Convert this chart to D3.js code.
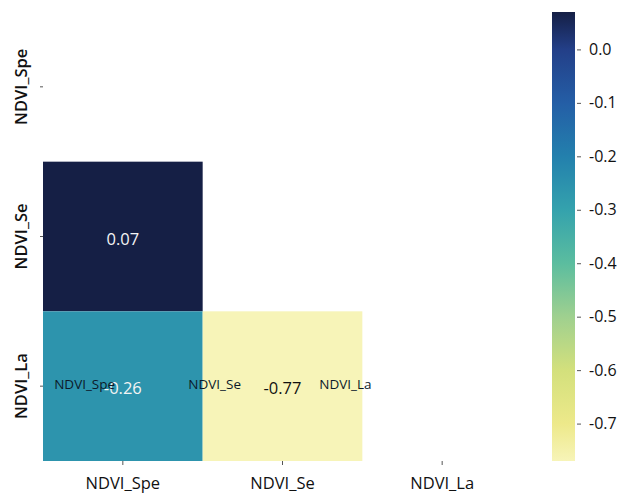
<!DOCTYPE html>
<html>
<head>
<meta charset="utf-8">
<script src="https://cdn.jsdelivr.net/npm/d3@7"></script>
<style>
  body { margin: 0; background: #fff; }
  svg text { font-family: "Open Sans", sans-serif; }
</style>
</head>
<body>
<div id="chart"></div>
<script>
// Data
const variables = ["NDVI_Spe", "NDVI_Se", "NDVI_La"];
// lower triangle of the correlation matrix: [row, column, value]
const cells = [
    ["NDVI_Se", "NDVI_Spe", 0.07],
    ["NDVI_La", "NDVI_Spe", -0.26],
    ["NDVI_La", "NDVI_Se", -0.77]
];
const colorTicks = [0.0, -0.1, -0.2, -0.3, -0.4, -0.5, -0.6, -0.7];
const colorDomain = [-0.77, 0.07];
// stray labels sitting on the bottom row (offset in cell widths)
const strayLabels = [
    ["NDVI_Spe", 0.07], ["NDVI_Se", 0.91], ["NDVI_La", 1.73]
];

const width = 622, height = 497;
const grid = { left: 43, top: 12, right: 522, bottom: 461 };

// plain hyphen instead of unicode minus
const fmt = f => d => d3.format(f)(d).replace("\u2212", "-");

const svg = d3.select("#chart")
    .append("svg")
    .attr("width", width)
    .attr("height", height);

const x = d3.scaleBand()
    .domain(variables)
    .range([grid.left, grid.right]);

const y = d3.scaleBand()
    .domain(variables)
    .range([grid.top, grid.bottom]);

// Colour ramp
const color = d3.scaleLinear()
    .domain([-0.77, -0.7, -0.6, -0.5, -0.4, -0.3, -0.2, -0.1, 0.0, 0.07])
    .range(["#f7f4b8", "#ede98a", "#d3e07c", "#9fd08f", "#5bbd9f", "#34a2ad",
            "#2380ad", "#245ea6", "#233f88", "#151f45"])
    .clamp(true);

// Cells
svg.selectAll(".cell")
    .data(cells)
    .enter()
    .append("rect")
    .attr("class", "cell")
    .attr("x", d => x(d[1]))
    .attr("y", d => y(d[0]))
    .attr("width", x.bandwidth())
    .attr("height", y.bandwidth())
    .attr("fill", d => color(d[2]));

svg.selectAll(".val")
    .data(cells)
    .enter()
    .append("text")
    .attr("class", "val")
    .attr("x", d => x(d[1]) + x.bandwidth() / 2)
    .attr("y", d => y(d[0]) + y.bandwidth() / 2 + 8)
    .attr("text-anchor", "middle")
    .attr("font-size", 16.5)
    .attr("fill", d => d[2] > -0.5 ? "#f4f4f4" : "#111")
    .text(d => fmt(".2f")(d[2]));

// Stray labels on the bottom row
svg.selectAll(".stray")
    .data(strayLabels)
    .enter()
    .append("text")
    .attr("class", "stray")
    .attr("x", d => x.range()[0] + d[1] * x.bandwidth())
    .attr("y", y("NDVI_La") + y.bandwidth() / 2 + 3)
    .attr("font-size", 13.5)
    .attr("fill", "#0c1a2a")
    .text(d => d[0]);

// X axis
const xAxis = svg.append("g")
    .attr("transform", `translate(0,${grid.bottom})`)
    .call(d3.axisBottom(x).tickSize(4).tickPadding(12));
xAxis.select(".domain").remove();
xAxis.selectAll("line").attr("stroke", "#555");
xAxis.selectAll("text")
    .attr("font-size", 16.5)
    .attr("fill", "#111")
    .style("font-family", "Open Sans, sans-serif");

// Y axis
const yAxis = svg.append("g")
    .attr("transform", `translate(${grid.left},0)`)
    .call(d3.axisLeft(y).tickSize(3).tickPadding(0));
yAxis.select(".domain").remove();
yAxis.selectAll("line").attr("stroke", "#555");
yAxis.selectAll("text")
    .attr("font-size", 16.5)
    .attr("font-weight", 600)
    .attr("fill", "#111")
    .attr("text-anchor", "middle")
    .attr("transform", "rotate(-90)")
    .attr("x", 0)
    .attr("y", -16)
    .attr("dy", 0)
    .style("font-family", "Open Sans, sans-serif");

// Colour bar
const bar = { x: 552, w: 23 };
const cy = d3.scaleLinear()
    .domain(colorDomain)
    .range([grid.bottom, grid.top]);

const defs = svg.append("defs");
const grad = defs.append("linearGradient")
    .attr("id", "cbar")
    .attr("x1", 0).attr("y1", 1)
    .attr("x2", 0).attr("y2", 0);
grad.selectAll("stop")
    .data(color.domain())
    .enter()
    .append("stop")
    .attr("offset", d => (d - colorDomain[0]) / (colorDomain[1] - colorDomain[0]))
    .attr("stop-color", d => color(d));

svg.append("rect")
    .attr("x", bar.x)
    .attr("y", cy(colorDomain[1]))
    .attr("width", bar.w)
    .attr("height", cy(colorDomain[0]) - cy(colorDomain[1]))
    .attr("fill", "url(#cbar)");

const cAxis = svg.append("g")
    .attr("transform", `translate(${bar.x + bar.w},0)`)
    .call(d3.axisRight(cy).tickValues(colorTicks).tickFormat(fmt(".1f")).tickSize(4).tickPadding(10));
cAxis.select(".domain").remove();
cAxis.selectAll("line").attr("stroke", "#555").attr("transform", "translate(2,0)");
cAxis.selectAll("text")
    .attr("font-size", 16)
    .attr("fill", "#111")
    .style("font-family", "Open Sans, sans-serif");
</script>
</body>
</html>
